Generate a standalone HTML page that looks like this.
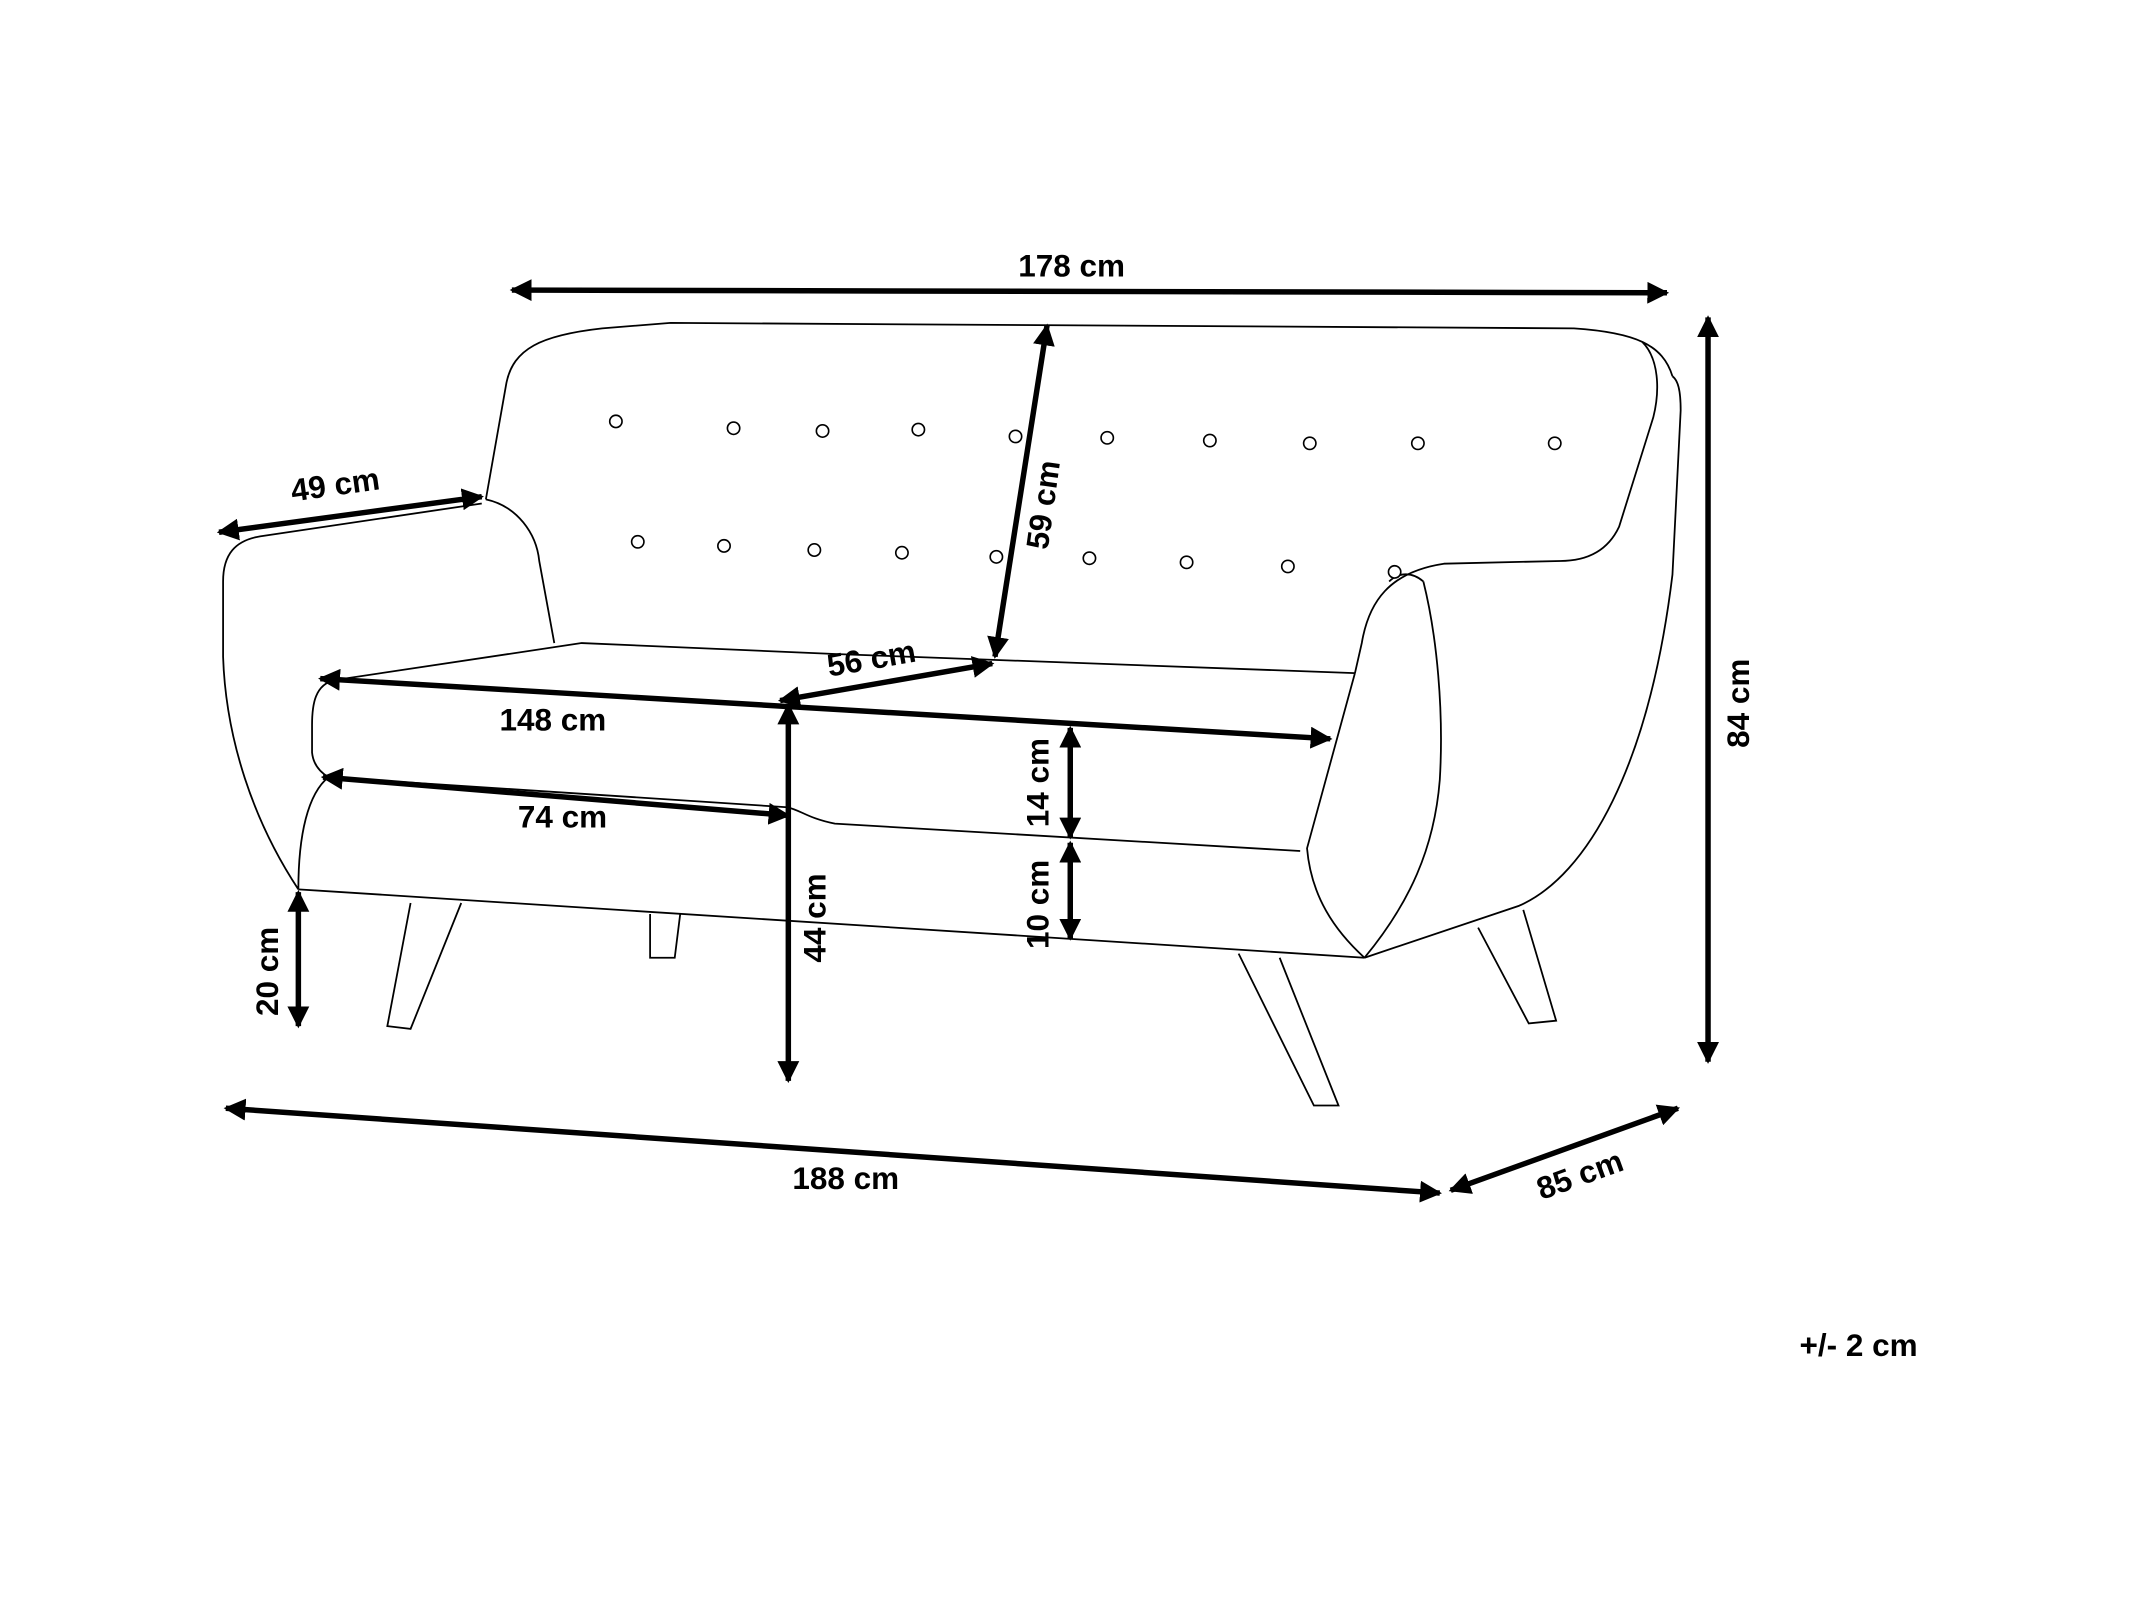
<!DOCTYPE html>
<html><head><meta charset="utf-8"><style>
html,body{margin:0;padding:0;background:#fff;}
svg{display:block;}
text{font-family:"Liberation Sans",sans-serif;font-weight:bold;font-size:23px;fill:#000;}
</style></head><body>
<svg width="2146" height="1609" viewBox="0 0 1568 1176" preserveAspectRatio="none" xmlns="http://www.w3.org/2000/svg">
<defs>
<marker id="a" viewBox="0 0 10 10" refX="9" refY="5" markerWidth="4" markerHeight="4" orient="auto-start-reverse"><path d="M0,0 L10,5 L0,10 z" fill="#000"/></marker>
</defs>
<g fill="none" stroke="#000" stroke-width="1.3">
<path d="M355,365 L370,280 C375,255 395,245 440,240 L490,236 L1150,240 C1195,243 1215,252 1222,275"/>
<path d="M1200,250 C1212,262 1213,285 1208,305 L1183,385 C1175,402 1160,410 1140,410 L1055,412 C1015,418 1000,440 995,470 L990,492"/>
<path d="M355,365 C378,370 392,390 394,410 L405,470"/>
<path d="M352,368 L190,392 C172,395 163,405 163,425 L163,480 C165,540 185,600 218,650"/>
<path d="M245,497 L425,470 L610,478 L990,492"/>
<path d="M245,497 C230,500 228,515 228,530 L228,550 C229,560 235,565 240,568"/>
<path d="M240,568 C225,580 218,610 218,650"/>
<path d="M240,568 L575,590 C585,592 590,598 610,602 L950,622"/>
<path d="M990,492 L955,620 C958,655 975,680 997,700"/>
<path d="M218,650 L997,700"/>
<path d="M997,700 L1110,662 C1160,640 1205,560 1222,420 L1228,300 C1228,285 1226,278 1222,275"/>
<path d="M1040,425 C1050,465 1055,520 1052,570 C1048,620 1030,660 997,700"/>
<path d="M1015,425 C1022,418 1032,418 1040,425"/>
<path d="M300,660 L283,750 L300,752 L337,660"/>
<path d="M475,668 L475,700 L493,700 L497,668"/>
<path d="M905,697 L960,808 L978,808 L935,700"/>
<path d="M1080,678 L1117,748 L1137,746 L1113,665"/>
</g>
<g fill="#fff" stroke="#000" stroke-width="1.2">
<circle cx="450" cy="308" r="4.5"/><circle cx="536" cy="313" r="4.5"/><circle cx="601" cy="315" r="4.5"/><circle cx="671" cy="314" r="4.5"/><circle cx="742" cy="319" r="4.5"/><circle cx="809" cy="320" r="4.5"/><circle cx="884" cy="322" r="4.5"/><circle cx="957" cy="324" r="4.5"/><circle cx="1036" cy="324" r="4.5"/><circle cx="1136" cy="324" r="4.5"/>
<circle cx="466" cy="396" r="4.5"/><circle cx="529" cy="399" r="4.5"/><circle cx="595" cy="402" r="4.5"/><circle cx="659" cy="404" r="4.5"/><circle cx="728" cy="407" r="4.5"/><circle cx="796" cy="408" r="4.5"/><circle cx="867" cy="411" r="4.5"/><circle cx="941" cy="414" r="4.5"/><circle cx="1019" cy="418" r="4.5"/>
</g>
<g stroke="#000" stroke-width="4" marker-start="url(#a)" marker-end="url(#a)" fill="none">
<line x1="374" y1="212" x2="1218" y2="214"/>
<line x1="1248" y1="232" x2="1248" y2="776"/>
<line x1="160" y1="389" x2="352" y2="363"/>
<line x1="765" y1="238" x2="727" y2="480"/>
<line x1="570" y1="512" x2="725" y2="485"/>
<line x1="234" y1="496" x2="972" y2="540"/>
<line x1="576" y1="515" x2="576" y2="790"/>
<line x1="236" y1="568" x2="576" y2="596"/>
<line x1="782" y1="532" x2="782" y2="612"/>
<line x1="782" y1="616" x2="782" y2="686"/>
<line x1="218" y1="652" x2="218" y2="750"/>
<line x1="165" y1="810" x2="1052" y2="872"/>
<line x1="1060" y1="870" x2="1226" y2="810"/>
</g>
<text x="783" y="202" text-anchor="middle">178 cm</text>
<text transform="translate(1278,514) rotate(-90)" text-anchor="middle">84 cm</text>
<text transform="translate(246,362) rotate(-8)" text-anchor="middle">49 cm</text>
<text transform="translate(770,370) rotate(-82)" text-anchor="middle">59 cm</text>
<text transform="translate(638,489) rotate(-10)" text-anchor="middle">56 cm</text>
<text x="404" y="534" text-anchor="middle">148 cm</text>
<text x="411" y="605" text-anchor="middle">74 cm</text>
<text transform="translate(766,572) rotate(-90)" text-anchor="middle">14 cm</text>
<text transform="translate(766,661) rotate(-90)" text-anchor="middle">10 cm</text>
<text transform="translate(603,671) rotate(-90)" text-anchor="middle">44 cm</text>
<text transform="translate(203,710) rotate(-90)" text-anchor="middle">20 cm</text>
<text x="618" y="869" text-anchor="middle">188 cm</text>
<text transform="translate(1157,866) rotate(-20)" text-anchor="middle">85 cm</text>
<text x="1358" y="991" text-anchor="middle">+/- 2 cm</text>
</svg>
</body></html>
